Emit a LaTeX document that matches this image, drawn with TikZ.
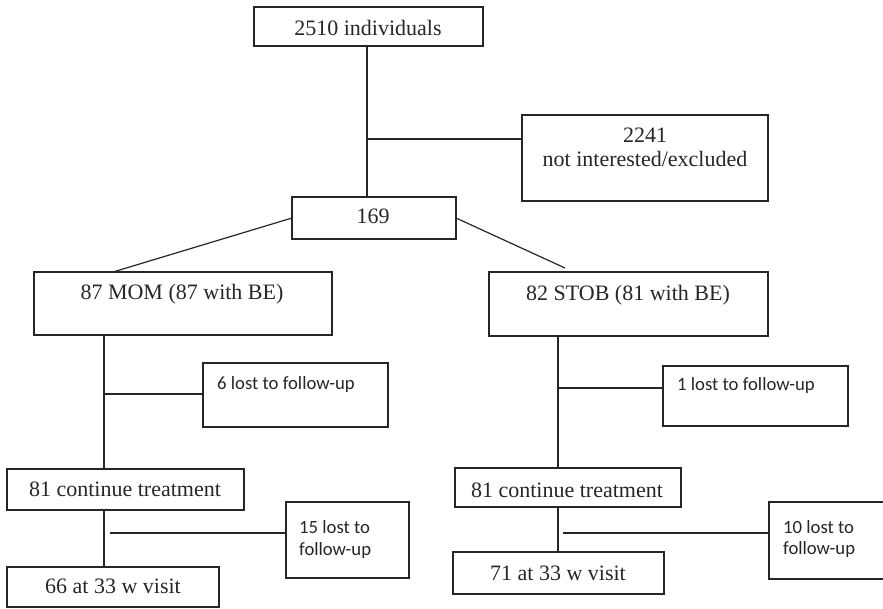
\documentclass[tikz,border=0pt]{standalone}
\usepackage{fontspec}
\setmainfont{Liberation Serif}
\newfontfamily\calibrifont{Carlito}
\begin{document}
\begin{tikzpicture}[x=1pt,y=-1pt,
  box/.style={draw=black!85, line width=1.2pt, inner sep=0pt, outer sep=0pt},
  conn/.style={draw=black!85, line width=1.2pt},
  sertext/.style={anchor=base, inner sep=0pt, text=black!85, font=\fontsize{22}{25}\selectfont},
  caltext/.style={anchor=base west, inner sep=0pt, text=black!85, font=\calibrifont\fontsize{18.7}{23}\selectfont}]
\useasboundingbox (0,0) rectangle (883,608);
% boxes
\node[box, minimum width=229pt, minimum height=39pt] (top) at (368.5,26.5) {};
\node[box, minimum width=246pt, minimum height=86pt] (excl) at (645,158) {};
\node[box, minimum width=164pt, minimum height=42pt] (n169) at (374,218) {};
\node[box, minimum width=298pt, minimum height=63pt] (mom) at (183,303.5) {};
\node[box, minimum width=279pt, minimum height=64pt] (stob) at (628.5,304) {};
\node[box, minimum width=185pt, minimum height=64pt] (lostA) at (295.5,395) {};
\node[box, minimum width=185pt, minimum height=60pt] (lostB) at (755.5,396) {};
\node[box, minimum width=237pt, minimum height=41pt] (contA) at (125.5,489.5) {};
\node[box, minimum width=226pt, minimum height=39pt] (contB) at (568,487.5) {};
\node[box, minimum width=123pt, minimum height=76pt] (lostC) at (347.5,540) {};
\node[box, minimum width=123pt, minimum height=77pt] (lostD) at (830.5,540.5) {};
\node[box, minimum width=212pt, minimum height=40pt] (visA) at (113,587) {};
\node[box, minimum width=211pt, minimum height=42pt] (visB) at (558.5,573) {};
% texts
\node[sertext] (t1) at (368,35) {2510 individuals};
\node[sertext] (t2a) at (645,142) {2241};
\node[sertext] (t2b) at (645,166) {not interested/excluded};
\node[sertext] (t3) at (373,223) {169};
\node[sertext] (t4) at (182,299) {87 MOM (87 with BE)};
\node[sertext] (t5) at (628,300) {82 STOB (81 with BE)};
\node[caltext] (t6) at (217,389) {6 lost to follow-up};
\node[caltext] (t7) at (677,390) {1 lost to follow-up};
\node[sertext] (t8) at (125,496) {81 continue treatment};
\node[sertext] (t9) at (567,497) {81 continue treatment};
\node[caltext] (t10a) at (299,533) {15 lost to};
\node[caltext] (t10b) at (299,555) {follow-up};
\node[caltext] (t11a) at (783,533) {10 lost to};
\node[caltext] (t11b) at (783,554) {follow-up};
\node[sertext] (t12) at (113,593) {66 at 33 w visit};
\node[sertext] (t13) at (558,580) {71 at 33 w visit};
% connector helper coordinates
\coordinate (vT) at (367,0);
\coordinate (j1) at (367,139);
\coordinate (m1) at (113,272);
\coordinate (s1) at (565,268);
\coordinate (vA) at (104,0);
\coordinate (vB) at (558,0);
\coordinate (hA) at (104,394);
\coordinate (hB) at (558,388);
\coordinate (hC) at (110,533);
\coordinate (hD) at (563,533);
% connectors
\draw[conn] (top.south -| vT) -- (n169.north -| vT);
\draw[conn] (j1) -- (j1 -| excl.west);
\draw[conn] (n169.west) -- (m1);
\draw[conn] (n169.east) -- (s1);
\draw[conn] (mom.south -| vA) -- (contA.north -| vA);
\draw[conn] (hA) -- (hA -| lostA.west);
\draw[conn] (contA.south -| vA) -- (visA.north -| vA);
\draw[conn] (hC) -- (hC -| lostC.west);
\draw[conn] (stob.south -| vB) -- (contB.north -| vB);
\draw[conn] (hB) -- (hB -| lostB.west);
\draw[conn] (contB.south -| vB) -- (visB.north -| vB);
\draw[conn] (hD) -- (hD -| lostD.west);
\end{tikzpicture}
\end{document}
